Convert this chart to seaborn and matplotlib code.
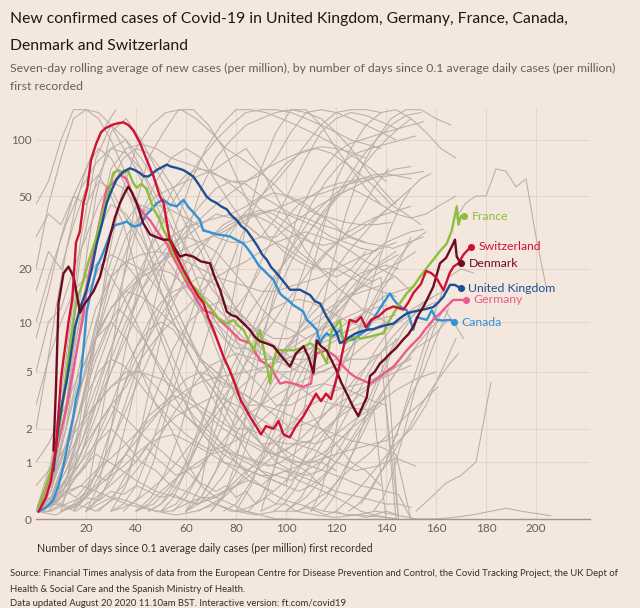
import numpy as np
import pandas as pd
import matplotlib.pyplot as plt
import seaborn as sns

# Highlighted countries: day since 0.1 cases/million, 7-day avg new cases per million
swi_days = [1, 4, 6, 8, 10, 11, 13, 14.5, 16, 17.5, 19, 20.5, 22, 24, 26, 28, 31, 33, 35, 37, 39, 41.5, 44, 47, 49.5,
            51, 53.5, 56, 59, 62, 65, 67, 69, 71, 73, 75, 77.5, 80, 82, 84, 86, 88, 90, 92, 95, 97, 99, 101.5, 104,
            107, 109, 112, 114, 116, 118, 120, 122, 123, 125.5, 128, 130, 132, 134, 137, 140, 143, 147, 149, 151,
            154, 156, 158, 160, 163, 165.5, 167, 169, 171, 173.9]
swi_vals = [0.09, 0.3, 0.6, 1.4, 4.5, 6, 10, 13.5, 28, 32, 46, 55, 78, 95, 110, 116, 121, 123, 124, 120, 112, 97, 80,
            64, 50, 46, 29, 24, 19.8, 16.5, 14, 12.9, 10.5, 9, 7.5, 6.2, 5.1, 4.0, 3.2, 2.8, 2.4, 2.1, 1.8, 2.1, 2.0,
            2.3, 1.8, 1.7, 2.1, 2.5, 2.9, 3.6, 3.2, 3.6, 3.3, 4.4, 6.0, 7.1, 10.3, 10.0, 10.7, 9.3, 10.3, 10.8, 11.8,
            12.3, 11.8, 13, 14.7, 16.5, 19.5, 19, 18, 15.2, 19, 20.6, 21.5, 24, 26.5]

den_days = [7, 8, 9, 11, 13, 15, 16.5, 17.6, 19, 20.3, 23, 25.6, 27.5, 29.6, 31.5, 33.6, 35.5, 36.9, 38.5, 40.3, 42.9,
            45.6, 48, 50.9, 53.6, 55.5, 57.6, 60, 62.9, 66, 69.6, 71.5, 73.6, 76.3, 78, 80.3, 83, 85.6, 87.5, 89.6,
            92, 95, 98, 101.6, 104, 107, 109, 111, 112.3, 114, 116.2, 118, 120.2, 122, 124.3, 126.9, 128.9, 130.5,
            132.3, 133.6, 135.5, 137.6, 139.5, 141.6, 144, 146.9, 149, 150.9, 153, 154.9, 157, 158.9, 160.5, 161.6,
            164, 166.9, 167.6, 168.3, 169.9]
den_vals = [1.3, 4, 12.8, 18.9, 20.6, 18.1, 14, 11.3, 12.5, 13.2, 15, 18.1, 23, 30.2, 38, 45.8, 52, 56.2, 52, 45.8,
            35.6, 31, 30, 29, 29, 26, 23.4, 24, 23.4, 22, 21.5, 18, 15.3, 11.5, 11, 10.7, 9.8, 9.0, 8.2, 7.7, 7.5,
            7.2, 6.3, 5.4, 6.5, 7.2, 6.2, 4.9, 7.8, 7.2, 6.8, 6, 5.1, 4.3, 3.6, 2.9, 2.5, 2.9, 3.4, 4.7, 5.0, 5.65,
            6.0, 6.5, 7.0, 7.9, 8.5, 9.4, 11, 12.2, 14, 15.9, 19, 21.5, 23, 27.6, 29, 23.4, 21.5]

fra_days = [1, 4, 7, 9, 10.9, 12.5, 14.3, 16.3, 18.9, 21, 24.3, 26, 28.3, 30.9, 32.9, 34.9, 36.9, 38.9, 40.3, 42,
            44.3, 46.9, 49.6, 50.9, 52.5, 55, 57.6, 59.5, 61.6, 64.3, 67, 70, 73, 76.3, 78.9, 81, 83, 85, 87, 89.6,
            91, 92.3, 93.6, 95, 96.3, 100, 103, 106, 109.6, 111.5, 113.6, 116.3, 118.3, 120, 121.6, 122.9, 125, 127,
            130, 133.6, 136, 139, 141, 143, 145.5, 148.3, 151, 153.6, 156, 158.9, 161.5, 164.3, 166.3, 168.3, 169,
            170, 171.2]
fra_vals = [0.15, 0.5, 1.0, 1.8, 3.3, 5.5, 8.6, 13.4, 17, 22, 30.2, 38, 47.7, 66.5, 69, 66.5, 68, 58.7, 55.4, 58,
            54.8, 42.9, 37, 33, 30, 24, 21.5, 18, 16.7, 15.3, 13.5, 12, 10.5, 9.8, 10.3, 9.5, 9.0, 7.8, 6.8, 9.0, 7,
            5.5, 4.2, 5.9, 6.8, 6.8, 6.8, 7.0, 7.5, 7.2, 6.8, 5.65, 9.0, 9.5, 10.3, 7.5, 7.8, 8.2, 8.0, 8.2, 8.4,
            8.6, 10, 11.2, 12.8, 14.6, 16, 18.1, 20, 22.5, 25, 27.6, 32.5, 44.0, 35, 39, 39]

uk_days = [7, 8, 9, 10.5, 12.3, 14, 15.6, 18, 20.3, 22.3, 24.3, 26.3, 28.3, 30.3, 32.3, 34.9, 37.6, 39.5, 41.6, 43,
           44.9, 46.5, 48.3, 50, 52.3, 54, 56, 58.9, 60.5, 62.9, 65, 68.3, 70, 72.3, 74, 76.3, 78, 80.3, 82, 84.3,
           86.5, 88.7, 90.5, 92.3, 94, 96.3, 99, 101.6, 103, 105.6, 107.5, 109.6, 111.5, 113.6, 116.3, 118, 120.3,
           121.6, 123, 125.6, 128, 130, 132.3, 135, 137.6, 140, 143, 145.5, 148.3, 151, 153.6, 156, 158.9, 161, 163,
           165.6, 167.5, 169.9]
uk_vals = [0.8, 1.4, 2.1, 3.1, 4.4, 6.5, 9.4, 12.5, 15.3, 20, 27.6, 35, 45.8, 54, 61.5, 67.7, 70.5, 69, 66.5, 64,
           63.7, 66, 69.1, 71, 73.8, 72, 71, 69, 67, 63.7, 58, 49.6, 47.5, 45.8, 44, 42.4, 39.5, 37, 34.5, 32.5, 29.5,
           26.6, 24, 22.5, 20.5, 18.9, 17, 15.3, 15.3, 15.3, 14.8, 14.3, 13.2, 12.8, 10.7, 9.8, 8.6, 7.5, 7.7, 8.2,
           8.6, 8.8, 9.0, 9.1, 9.4, 9.6, 9.8, 10.5, 11.2, 11.5, 11.7, 11.9, 12.2, 13, 14, 16.3, 16.3, 15.6]

can_days = [1, 2.5, 4, 5.5, 6.9, 9, 10.9, 13, 14.9, 16, 17.6, 19, 20.3, 22, 24.3, 26, 28, 30, 31.6, 34, 36.3, 38.9,
            41.6, 44.3, 46, 48.3, 50.9, 53.5, 56.3, 59, 61, 62.9, 65.6, 66.9, 69, 72.3, 75, 77.6, 80, 83, 85, 86.9,
            89, 90.9, 93, 95, 97.6, 98.9, 101, 103, 105, 106.9, 108.3, 110, 112.3, 113.6, 115, 116.3, 118, 120, 121.6,
            123.6, 125, 127, 130, 132.3, 134, 136.3, 138.5, 141.6, 143, 144.3, 146, 148.3, 149.5, 150.9, 152.3, 154,
            156.3, 158.3, 160.3, 163, 165.6, 167.2]
can_vals = [0.1, 0.12, 0.15, 0.2, 0.26, 0.5, 0.89, 1.6, 2.48, 3.3, 4.2, 7, 11.5, 15, 20.6, 23, 27, 32, 34.8, 35.5,
            36.4, 34.2, 34.8, 39.9, 42, 45.8, 47.7, 45, 44, 47.7, 43.5, 40.9, 37, 32.5, 32, 31, 30.6, 30.2, 29, 27.6,
            25.5, 23.4, 21, 19.8, 18.5, 17.4, 14.6, 14, 13.3, 12.5, 12, 11.5, 10.3, 9.8, 9.0, 7.5, 8.2, 8.6, 8.2,
            8.5, 9.0, 7.5, 7.8, 7.9, 8.5, 9.0, 10, 11.2, 12.6, 14.6, 13.5, 12.8, 12.2, 11.7, 10.5, 9.0, 10.7, 10.5,
            10.3, 11.7, 10.3, 10.2, 10.3, 10.0]

ger_days = [1, 3, 5, 6.5, 8.3, 10, 12.3, 14, 16.3, 17.5, 18.9, 20.3, 22.3, 24.3, 26.3, 28.3, 30.9, 33.6, 36.3, 38.9,
            41.6, 43.5, 45.6, 48.3, 50.5, 52.3, 55, 57.6, 60, 62.9, 64.8, 66.9, 70.9, 74.9, 77.6, 81.6, 85.6, 89.6,
            93.6, 95.5, 97.6, 100, 103, 106.9, 110, 111, 112.3, 116.3, 120, 122.5, 125.6, 128, 130.9, 133.6, 137.6,
            140, 143, 145.5, 148.3, 151, 153.6, 155.5, 157.6, 159.5, 161.6, 164, 166.9, 169, 172]
ger_vals = [0.16, 0.35, 0.6, 0.9, 1.32, 1.9, 2.93, 4.3, 6.8, 8.5, 10.7, 15.9, 22, 30.2, 41, 54.8, 58.7, 65.6, 61.5,
            49.6, 42.9, 39.5, 37, 32.5, 29.5, 27.6, 23, 19.8, 17, 14.6, 13, 11.7, 11.2, 9.8, 9.0, 7.87, 7.5, 5.9, 5.4,
            4.8, 4.2, 4.3, 4.2, 4.0, 4.2, 5.5, 6.5, 6.8, 6.2, 5.5, 4.9, 4.6, 4.4, 4.2, 4.66, 5.0, 5.4, 6.0, 6.8, 7.5,
            8.2, 9, 9.8, 10.5, 11.2, 12.2, 13.4, 13.4, 13.4]

countries = ['Canada', 'Germany', 'France', 'United Kingdom', 'Denmark', 'Switzerland']
country_days = [can_days, ger_days, fra_days, uk_days, den_days, swi_days]
country_vals = [can_vals, ger_vals, fra_vals, uk_vals, den_vals, swi_vals]
country_colors = ['#3391d4', '#ea5b8b', '#8dbe3d', '#1c4f93', '#6d0b24', '#cf1232']

# All other countries/regions, drawn in grey: first day, days between points, values
grey_start = [0, 0, 0, 0, 0, 0, 0, 0, 0, 0, 0, 0, 0, 0, 0, 0, 30, 20, 40, 0, 0, 0, 50, 60, 80, 100, 120, 152, 152,
              168, 0, 0, 0, 10, 15, 0, 0, 0, 0, 0, 0, 0, 5, 10, 25, 35, 70, 90, 110, 130, 140, 0, 90, 100, 60, 60, 40]
grey_step = [6, 6, 6, 6, 6, 6, 5, 5, 6, 6, 6, 6, 6, 6, 6, 6, 6, 6, 6, 6, 6, 6, 6, 6, 6, 6, 6, 6, 6,
             4, 8, 8, 8, 6, 6, 5, 5, 5, 4, 6, 6, 6, 6, 6, 6, 6, 6, 6, 6, 5, 5, 6, 6, 6, 6, 6, 7]
grey_vals = [
    [0.1, 0.8, 5, 25, 60, 90, 100, 80, 60, 40, 25, 15, 10, 7, 5, 4, 3, 3, 3.5, 4, 5, 7, 10, 15, 20, 30],
    [0.1, 0.5, 3, 15, 50, 110, 130, 100, 70, 50, 35, 25, 15, 9, 6, 5, 5, 5, 6, 8, 10, 14, 20, 25],
    [0.1, 0.4, 2, 10, 30, 70, 90, 95, 90, 80, 75, 70, 65, 60, 60, 65, 80, 110, 140, 145, 140, 130, 120, 110, 100],
    [0.1, 0.3, 1, 3, 8, 15, 25, 40, 50, 55, 60, 65, 70, 80, 90, 70, 50, 35, 25, 20, 18, 20, 25],
    [0.1, 0.3, 0.6, 1, 1.5, 2, 1.5, 1, 0.8, 0.5, 0.4, 0.3, 0.3, 0.5, 0.8, 1, 1.5, 2, 3, 2, 1.5, 1, 0.8, 0.5],
    [0.1, 0.3, 0.8, 2, 4, 7, 12, 20, 30, 45, 60, 80, 100, 120, 140, 145, 145, 140, 130, 120, 110, 100, 95, 90],
    [20, 45, 80, 130, 145, 140, 120, 90, 70, 50, 35, 25, 18, 12, 10, 8, 7, 7, 6, 6, 7, 8],
    [45, 60, 100, 145, 145, 130, 100, 70, 45, 30, 20, 13, 9, 6, 5, 4, 4, 3, 3, 4, 5],
    [0.1, 0.2, 0.4, 0.5, 0.4, 0.3, 0.2, 0.15, 0.1, 0.1, 0.2, 0.3, 0.2, 0.1, 0.1, 0.05],
    [0.1, 0.5, 2, 5, 8, 10, 8, 5, 3, 2, 1, 0.5, 0.3, 0.2, 0.1, 0.05, 0, 0],
    [0.1, 0.5, 1.5, 4, 8, 12, 15, 18, 20, 25, 30, 35, 40, 38, 35, 30, 28, 25, 22, 20, 20, 18, 16, 15, 14],
    [0.1, 0.3, 1, 3, 6, 10, 20, 40, 60, 80, 90, 80, 60, 45, 35, 30, 30, 35, 40, 45, 50, 55, 50, 45],
    [0.1, 1, 6, 30, 80, 120, 100, 70, 45, 30, 20, 12, 7, 4, 2.5, 1.5, 1, 0.8, 0.7, 0.8, 1.2, 2, 3, 5, 8],
    [0.1, 0.6, 3, 12, 30, 45, 40, 30, 20, 14, 9, 6, 4, 3, 2, 1.5, 1.2, 1, 1, 1.2, 1.5, 2, 2.5, 3],
    [0.1, 0.2, 0.5, 1.2, 2.5, 5, 9, 15, 22, 28, 30, 28, 25, 20, 16, 12, 10, 9, 8, 9, 11, 14, 18, 22, 25],
    [0.1, 0.3, 1, 2, 3, 4, 5, 5, 4, 3, 2.5, 2, 1.5, 1.2, 1, 0.8, 0.7, 0.6, 0.8, 1, 1.5, 2],
    [0.1, 0.5, 2, 6, 15, 30, 55, 80, 100, 120, 130, 140, 145, 140, 130, 110, 90, 70, 55, 45],
    [0.1, 0.3, 1, 3, 8, 18, 35, 60, 90, 120, 145, 145, 140, 130, 120, 110, 100, 90, 80, 70, 60],
    [0.1, 0.3, 0.8, 2, 5, 10, 18, 30, 45, 60, 75, 85, 90, 85, 75, 65, 55, 45, 40, 35],
    [0.1, 0.2, 0.5, 1, 2, 3, 4, 6, 8, 10, 12, 15, 18, 20, 22, 25, 28, 30, 32, 30, 28, 25, 22, 20, 18, 15],
    [0.1, 0.4, 1.5, 4, 8, 12, 15, 14, 12, 10, 8, 6, 5, 4, 3.5, 3, 2.8, 2.5, 2.2, 2, 1.8, 1.6, 1.5, 1.4, 1.2, 0],
    [0.1, 0.3, 0.8, 1.5, 3, 5, 8, 12, 18, 25, 35, 45, 55, 60, 58, 50, 45, 40, 38, 35, 33, 30, 28],
    [0.1, 0.2, 0.5, 1, 2, 4, 7, 12, 20, 30, 45, 60, 75, 85, 90, 95, 100, 105],
    [0.1, 0.3, 0.8, 2, 4, 8, 14, 22, 30, 40, 50, 55, 60, 65, 70, 72],
    [0.1, 0.5, 1.5, 3, 5, 8, 10, 12, 15, 18, 20, 22, 25],
    [0.1, 0.3, 0.8, 1.5, 2.5, 4, 6, 8, 10, 12, 13],
    [0.1, 0.3, 0.6, 1, 1.5, 2, 3, 5, 8],
    [0, 0, 0.01, 0.03, 0.06, 0.1, 0.14, 0.1, 0.07, 0.04],
    [0.1, 0.3, 0.55, 0.7, 1.0, 4.3],
    [38, 46, 50, 50, 70, 68, 56, 62, 30, 16],
    [0.1, 0.05, 0.2, 0.1, 0.3, 0.2, 0.1, 0.05, 0.1, 0.2, 0.1, 0.05, 0.1, 0.1, 0.05, 0.02, 0.05, 0.1, 0.05, 0],
    [0.1, 0.3, 0.7, 1.2, 0.9, 0.6, 0.4, 0.3, 0.2, 0.3, 0.5, 0.8, 1.2, 1.5, 1.3, 1.0, 0.8, 0.9, 1.1, 0.9],
    [0.1, 0.2, 0.1, 0.3, 0.6, 1, 1.8, 2.5, 3, 3.5, 3, 2.5, 2, 1.6, 1.5, 1.8, 2.4, 3, 3.8, 4.5, 5],
    [0.1, 1, 5, 20, 50, 90, 120, 140, 145, 130, 110, 90, 80, 70, 60, 50, 45, 40, 38, 36, 35, 35, 36],
    [0.1, 0.5, 3, 12, 40, 80, 110, 145, 145, 120, 90, 60, 40, 30, 25, 22, 20, 25, 30, 40, 55, 70],
    [8, 15, 30, 50, 70, 90, 80, 60, 40, 25, 15, 10, 7, 5, 4, 3, 2, 2, 1.5, 1.5],
    [15, 25, 20, 35, 55, 65, 50, 35, 20, 12, 8, 5, 3, 2, 1.5, 1, 0.8, 0.6, 0.5, 0.4],
    [5, 10, 12, 20, 30, 45, 60, 55, 45, 35, 25, 20, 15, 12, 10, 10, 12, 15, 20],
    [2, 5, 12, 25, 45, 70, 95, 120, 145],
    [10, 20, 35, 55, 75, 90, 85, 70, 50, 35, 20, 12, 8, 5, 3, 2, 1.5, 1, 0.8, 0.5],
    [0.1, 0.3, 1.2, 4, 10, 18, 22, 20, 16, 12, 8, 6, 5, 4, 3, 2, 1.5, 1.2, 1, 1, 0.8],
    [0.1, 0.2, 0.6, 2, 5, 9, 14, 18, 20, 19, 16, 13, 10, 8, 7, 6, 6, 7, 8, 9, 10, 11, 12],
    [0.1, 0.4, 2, 8, 20, 35, 45, 42, 35, 28, 20, 15, 12, 10, 9, 8, 8, 9, 10, 12, 14, 15, 16, 18],
    [0.1, 0.2, 0.4, 1, 2.5, 5, 9, 14, 20, 26, 30, 34, 38, 40, 42, 40, 37, 34, 30, 28, 26, 25],
    [0.1, 0.3, 0.8, 2, 4, 7, 10, 12, 13, 12, 10, 8, 7, 6, 6, 7, 8, 10, 12, 14, 15, 16],
    [0.1, 0.3, 1, 3, 6, 12, 20, 30, 40, 48, 52, 50, 46, 40, 35, 30, 28, 27, 26, 28, 30],
    [0.1, 0.4, 1, 2.5, 5, 10, 18, 30, 45, 60, 80, 100, 120, 135, 140],
    [0.1, 0.2, 0.5, 1.2, 2.5, 4.5, 7, 11, 16, 22, 28, 32],
    [0.1, 0.3, 0.7, 1.4, 2.5, 4, 5.5, 7, 8, 10],
    [0.2, 0.5, 1, 2, 3.5, 5, 8, 12],
    [1, 2, 4, 7, 12, 18, 20, 19],
    [0.1, 0.1, 0.2, 0.3, 0.5, 0.8, 1.2, 1.8, 2.5, 3.5, 4.5, 5, 4.5, 4, 3.5, 3, 2.5, 2, 2.2, 2.5, 3, 3.5, 4, 4.5, 5, 5.5],
    [0.1, 1, 5, 15, 30, 60, 90, 120, 140, 145, 130, 110, 90, 80],
    [0.5, 2, 8, 20, 40, 70, 100, 130, 145, 145, 130, 120],
    [0.1, 0.5, 3, 12, 35, 70, 110, 145, 145, 120, 90, 70, 55, 45, 40, 38, 40, 45, 50],
    [0.1, 0.3, 0.8, 1.5, 2.5, 3, 3.5, 4, 4.5, 5, 5.5, 6, 6, 6.5, 0],
    [0.1, 0.2, 0.5, 1, 2, 3, 4, 5, 6, 8, 10, 12, 14, 16, 18, 0],
]

# more grey regions, mostly low and mid level
grey_start2 = [0, 0, 3, 0, 0, 10, 20, 0, 0, 15, 30, 45, 55, 65, 75, 85, 95, 105, 115, 125, 135, 0, 0, 0, 0, 0, 0, 0]
grey_step2 = [5, 5, 5, 4, 5, 5, 5, 5, 6, 5, 5, 5, 5, 5, 5, 5, 4, 4, 4, 4, 4, 5, 5, 5, 5, 5, 6, 6]
grey_vals2 = [
    [0.1, 0.2, 0.5, 0.9, 1.5, 2.2, 3, 2.5, 2, 1.6, 1.3, 1, 0.8, 0.9, 1.2, 1.6, 2.2, 3, 4, 5.5, 7, 9, 11, 13, 15, 17,
     19, 20, 22, 24],
    [0.1, 0.15, 0.3, 0.6, 1, 1.8, 3, 5, 7, 9, 10, 9, 7, 5, 3.5, 2.5, 1.8, 1.2, 0.8, 0.6, 0.5, 0.4, 0.5, 0.7, 1, 1.4,
     2, 2.8, 3.5],
    [0.1, 0.4, 1.2, 3, 6, 9, 12, 10, 8, 6, 4.5, 3.5, 2.5, 2, 1.6, 1.3, 1.1, 1, 0.9, 1, 1.2, 1.5, 1.8, 2.2, 2.6, 3,
     3.2],
    [0.1, 0.2, 0.2, 0.4, 0.3, 0.5, 0.7, 0.6, 0.9, 1.2, 1, 1.4, 1.1, 0.9, 0.7, 0.8, 0.6, 0.5, 0.4, 0.5, 0.3, 0.4,
     0.2, 0.3, 0.2, 0.2, 0.1, 0.15, 0.1, 0.05, 0.1, 0.05, 0.05, 0.02, 0.05, 0.02, 0],
    [0.1, 0.3, 0.2, 0.6, 0.9, 1.6, 2.5, 4, 6, 8, 11, 14, 16, 18, 17, 15, 12, 10, 8, 7, 6, 5.5, 5, 5, 5.5, 6, 7, 8, 9,
     10],
    [0.1, 0.2, 0.4, 0.8, 1.5, 2.5, 4, 6, 9, 13, 18, 24, 30, 35, 38, 40, 38, 35, 30, 25, 22, 19, 16, 14, 12, 11, 10],
    [0.1, 0.3, 0.6, 1.1, 1.8, 2.5, 3, 3.5, 3.2, 2.8, 2.4, 2, 1.7, 1.5, 1.3, 1.2, 1.3, 1.6, 2, 2.5, 3.2, 4, 5, 6, 7,
     8],
    [0.1, 0.6, 2.5, 7, 14, 20, 24, 22, 18, 13, 9, 6, 4, 2.8, 2, 1.4, 1, 0.7, 0.5, 0.35, 0.25, 0.2, 0.15, 0.1, 0.08,
     0.05, 0.05, 0.03, 0.02, 0],
    [0.1, 0.2, 0.35, 0.5, 0.8, 1.1, 1.5, 2, 2.6, 3.2, 3.8, 4.3, 4.6, 4.8, 5, 5.3, 5.7, 6.2, 6.8, 7.5, 8.2, 9, 9.8,
     10.5, 11],
    [0.1, 0.3, 0.9, 2, 4, 7, 10, 13, 15, 16, 15, 13, 11, 9, 7.5, 6.5, 6, 6, 6.5, 7, 8, 9, 10, 11, 12, 12.5],
    [0.1, 0.2, 0.5, 1.2, 2.5, 5, 9, 15, 22, 30, 36, 40, 42, 40, 36, 32, 28, 25, 22, 20, 18, 17],
    [0.1, 0.2, 0.4, 0.8, 1.5, 2.5, 4, 6, 8, 10, 12, 13, 13.5, 13, 12, 11, 10, 9.5, 9, 9.5, 10, 11],
    [0.1, 0.3, 0.7, 1.5, 3, 5, 8, 12, 17, 23, 30, 38, 45, 52, 58, 62, 65, 66, 64, 62],
    [0.1, 0.2, 0.3, 0.5, 0.8, 1.2, 1.6, 2, 2.5, 3, 3.4, 3.8, 4, 4.2, 4.5, 5, 5.5, 6],
    [0.1, 0.2, 0.5, 1, 1.8, 3, 4.5, 6.5, 9, 12, 15, 18, 20, 21, 20],
    [0.1, 0.3, 0.8, 1.8, 3.5, 6, 9, 13, 17, 21, 25, 28, 30, 32, 33],
    [0.1, 0.2, 0.4, 0.7, 1.1, 1.6, 2.2, 3, 4, 5, 6.5, 8, 9.5, 11, 12, 13, 14],
    [0.1, 0.2, 0.3, 0.4, 0.6, 0.8, 1, 1.2, 1.5, 1.8, 2.2, 2.6, 3, 3.5, 4],
    [0.1, 0.3, 0.7, 1.3, 2.2, 3.5, 5, 7, 9, 11, 13, 14, 15],
    [0.1, 0.2, 0.4, 0.7, 1, 1.5, 2, 2.8, 3.6, 4.5, 5.5, 6.5],
    [0.1, 0.3, 0.8, 1.8, 3.5, 6, 9, 12, 10, 8],
    [30, 40, 35, 50, 45, 60, 55, 40, 30, 22, 15, 10, 7, 5, 4, 3, 2.5, 2, 1.8, 1.6, 1.5, 1.5, 1.6],
    [3, 6, 10, 15, 18, 22, 18, 14, 10, 7, 5, 3.5, 2.5, 2, 1.5, 1.2, 1, 0.8, 0.7, 0.6, 0.5],
    [1, 1.5, 2.5, 4, 6, 9, 12, 15, 18, 20, 22, 24, 26, 28, 30, 32, 35, 38, 40, 42, 45, 48, 50, 52, 55, 58, 60, 62],
    [0.5, 0.8, 1.2, 1.8, 2.5, 3.2, 4, 4.5, 5, 4.8, 4.5, 4, 3.5, 3, 2.6, 2.2, 1.9, 1.6, 1.4, 1.2, 1.1, 1, 0.9, 0.8,
     0.7, 0.6, 0.5, 0.45, 0.4, 0.35, 0],
    [0.1, 0.4, 1.5, 5, 15, 35, 60, 80, 90, 85, 70, 55, 40, 30, 22, 16, 12, 9, 7, 6, 5.5, 5, 5, 5.5, 6, 7, 8, 9, 10],
    [0.1, 0.3, 1, 3, 8, 18, 30, 40, 45, 42, 38, 34, 30, 28, 28, 30, 38, 55, 80, 110, 130, 140, 135, 125, 115],
    [0.1, 0.2, 0.6, 1.5, 3.5, 7, 12, 18, 25, 30, 34, 36, 38, 40, 44, 50, 60, 75, 95, 120, 140, 145, 145, 140],
]

# third batch of grey regions
grey_start3 = [0, 0, 10, 20, 30, 40, 50, 60, 70, 80, 0, 0, 20, 45, 100, 110]
grey_step3 = [5, 5, 5, 5, 5, 5, 5, 5, 5, 5, 6, 6, 5, 5, 4, 4]
grey_vals3 = [
    [0.1, 0.1, 0.2, 0.15, 0.3, 0.25, 0.4, 0.35, 0.5, 0.4, 0.3, 0.35, 0.25, 0.2, 0.3, 0.4, 0.5, 0.6, 0.5, 0.7, 0.8,
     0.6, 0.5, 0.4, 0.3, 0.2, 0.1, 0.05, 0.1, 0.05],
    [0.1, 0.4, 1, 2, 3.5, 5, 6, 5.5, 4.5, 3.5, 2.8, 2.2, 1.8, 1.5, 1.3, 1.4, 1.6, 1.9, 2.3, 2.8, 3.3, 3.8, 4, 4.2, 4,
     3.8, 3.5, 3.2, 3, 0],
    [0.1, 0.15, 0.3, 0.5, 0.7, 0.9, 1.2, 1.5, 1.7, 1.8, 1.6, 1.4, 1.2, 1, 0.9, 0.8, 0.7, 0.7, 0.8, 0.9, 1, 1.1, 1.2,
     1.3, 1.4, 1.5, 1.6, 1.8],
    [0.1, 0.2, 0.3, 0.5, 0.8, 1.2, 1.8, 2.6, 3.5, 4.5, 5.5, 6, 6.5, 6.2, 5.8, 5.2, 4.6, 4, 3.5, 3.2, 3, 2.9, 2.8,
     2.8, 0],
    [0.1, 0.15, 0.25, 0.4, 0.6, 0.9, 1.3, 1.8, 2.5, 3.4, 4.5, 6, 8, 10, 13, 16, 20, 24, 28, 32, 35, 38, 40, 42, 44],
    [0.1, 0.2, 0.4, 0.6, 0.8, 1, 1.2, 1.3, 1.2, 1.1, 1, 0.9, 0.8, 0.7, 0.6, 0.5, 0.4, 0.35, 0.3, 0.25, 0.2, 0.2,
     0.15],
    [0.1, 0.3, 0.8, 1.8, 3.5, 6, 10, 15, 22, 30, 38, 45, 50, 55, 58, 60, 62, 63, 64, 65, 66, 68],
    [0.1, 0.2, 0.4, 0.7, 1.2, 2, 3, 4.5, 6.5, 9, 12, 16, 20, 25, 30, 36, 42, 48, 55],
    [0.1, 0.3, 1, 3, 7, 14, 25, 40, 55, 70, 85, 95, 100, 105, 110, 115, 120, 125],
    [0.1, 0.15, 0.25, 0.4, 0.6, 0.9, 1.3, 1.8, 2.4, 3, 3.6, 4.2, 4.8, 5.5, 6.2],
    [0.1, 0.5, 2, 6, 12, 18, 22, 24, 25, 24, 22, 20, 18, 17, 16, 15, 15, 16, 17, 18, 20, 22, 24, 26, 28],
    [0.1, 0.2, 0.5, 1.2, 3, 6, 10, 15, 20, 26, 32, 38, 45, 52, 60, 68, 75, 82, 88, 92, 90, 86, 80],
    [0.1, 0.5, 2, 6, 14, 25, 40, 55, 65, 70, 68, 62, 55, 48, 42, 37, 33, 30, 28, 27, 28, 30, 33, 37, 42, 48],
    [0.1, 0.2, 0.5, 1, 2, 3.5, 5.5, 8, 11, 14, 18, 22, 27, 33, 40, 48, 58, 70, 85, 100, 115, 130],
    [0.1, 0.2, 0.3, 0.5, 0.7, 1, 1.4, 1.9, 2.5, 3.2, 4, 5, 6, 7.2, 8.5, 10],
    [0.1, 0.4, 1.2, 3, 6, 10, 16, 24, 34, 45, 55, 62, 66],
]

y_ticks = [0, 1, 2, 5, 10, 20, 50, 100]
x_ticks = [20, 40, 60, 80, 100, 120, 140, 160, 180, 200]

bg = '#f4e7dd'
grey = '#b8afa8'
text_dark = '#33302e'
text_mid = '#66605c'

rows = []
all_start = grey_start + grey_start2 + grey_start3
all_step = grey_step + grey_step2 + grey_step3
all_vals = grey_vals + grey_vals2 + grey_vals3
for i, (s, st, vals) in enumerate(zip(all_start, all_step, all_vals)):
    for k, v in enumerate(vals):
        rows.append((i, s + st * k, v))
grey_df = pd.DataFrame(rows, columns=['line', 'day', 'value'])

crows = []
for name, d, v in zip(countries, country_days, country_vals):
    for dd, vv in zip(d, v):
        crows.append((name, dd, vv))
country_df = pd.DataFrame(crows, columns=['country', 'day', 'value'])

sns.set_theme(style='white')
plt.rcParams['font.family'] = ['Lato', 'DejaVu Sans']

fig = plt.figure(figsize=(6.4, 6.08), dpi=100)
fig.patch.set_facecolor(bg)
ax = fig.add_axes([36 / 640, 1 - 519 / 608, (590 - 36) / 640, (519 - 108) / 608])
ax.set_facecolor(bg)

ax.set_yscale('function', functions=(lambda v: np.log10(np.clip(v, 0, None) + 1), lambda y: 10 ** y - 1))

sns.lineplot(data=grey_df, x='day', y='value', units='line', estimator=None, color=grey,
             lw=0.75, ax=ax, legend=False)
sns.lineplot(data=country_df, x='day', y='value', hue='country', hue_order=countries,
             palette=country_colors, estimator=None, lw=1.7, ax=ax, legend=False)

for name, d, v, c in zip(countries, country_days, country_vals, country_colors):
    ax.scatter([d[-1]], [v[-1]], s=26, color=c, zorder=5, linewidths=0)
    ax.annotate(name, (d[-1], v[-1]), xytext=(5.5, 0), textcoords='offset points',
                va='center', ha='left', fontsize=8.8, color=c)

ax.set_xlim(0, 221.6)
ax.set_ylim(0, 148)
ax.set_yticks(y_ticks)
ax.set_yticklabels([str(t) for t in y_ticks])
ax.set_xticks(x_ticks)
ax.set_xticklabels([str(t) for t in x_ticks])
ax.tick_params(length=0, labelsize=8.5, colors=text_mid, pad=3)
ax.grid(True, color='#e4d6cb', lw=0.8)
ax.set_axisbelow(True)
for side in ['left', 'top', 'right']:
    ax.spines[side].set_visible(False)
ax.spines['bottom'].set_color('#9e958e')
ax.spines['bottom'].set_linewidth(1)
ax.set_xlabel('')
ax.set_ylabel('')

def px(x, y):
    return x / 640, 1 - y / 608

fig.text(*px(10, 19), 'New confirmed cases of Covid-19 in United Kingdom, Germany, France, Canada,',
         va='center', ha='left', fontsize=11.3, color='#1a1817')
fig.text(*px(10, 46), 'Denmark and Switzerland', va='center', ha='left', fontsize=11.3, color='#1a1817')
fig.text(*px(10, 68), 'Seven-day rolling average of new cases (per million), by number of days since 0.1 '
         'average daily cases (per million)', va='center', ha='left', fontsize=8.8, color=text_mid)
fig.text(*px(10, 86), 'first recorded', va='center', ha='left', fontsize=8.8, color=text_mid)
fig.text(*px(37, 548), 'Number of days since 0.1 average daily cases (per million) first recorded',
         va='center', ha='left', fontsize=7.7, color=text_dark)
fig.text(*px(10, 574), 'Source: Financial Times analysis of data from the European Centre for Disease Prevention '
         'and Control, the Covid Tracking Project, the UK Dept of', va='center', ha='left', fontsize=6.8,
         color=text_dark)
fig.text(*px(10, 589), 'Health & Social Care and the Spanish Ministry of Health.', va='center', ha='left',
         fontsize=6.8, color=text_dark)
fig.text(*px(10, 603), 'Data updated August 20 2020 11.10am BST. Interactive version: ft.com/covid19',
         va='center', ha='left', fontsize=6.8, color=text_dark)

fig.savefig('out.png', dpi=100, facecolor=bg)
